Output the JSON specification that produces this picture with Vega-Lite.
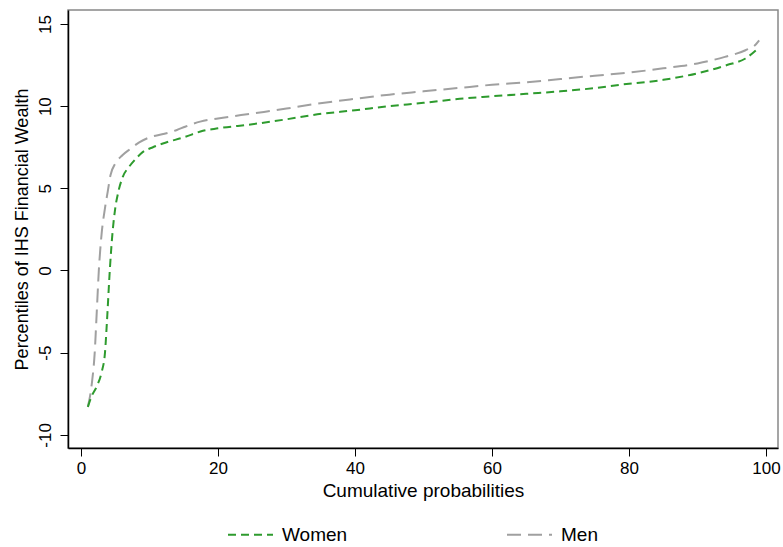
{
  "$schema": "https://vega.github.io/schema/vega-lite/v6.json",
  "autosize": "none",
  "width": 710,
  "height": 438,
  "padding": {"left": 68, "top": 10, "right": 5, "bottom": 99},
  "background": "white",
  "config": {
    "font": "Liberation Sans",
    "view": {"stroke": "#888888", "strokeWidth": 1.5},
    "axis": {"labelFont": "Liberation Sans", "titleFont": "Liberation Sans", "labelFontSize": 17, "titleFontSize": 18, "titleFontWeight": "normal", "labelColor": "black", "titleColor": "black", "domainColor": "black", "domainWidth": 1.5, "tickColor": "black", "tickWidth": 1, "tickSize": 8, "grid": false},
    "legend": {"labelFont": "Liberation Sans", "labelFontSize": 19, "labelColor": "black"}
  },
  "data": {"values": [
    {"p": 1, "v": -8.3, "sex": "Men"},
    {"p": 1.6, "v": -6.8, "sex": "Men"},
    {"p": 2, "v": -5.0, "sex": "Men"},
    {"p": 2.3, "v": -2.5, "sex": "Men"},
    {"p": 2.6, "v": 0, "sex": "Men"},
    {"p": 3, "v": 2.2, "sex": "Men"},
    {"p": 3.5, "v": 3.8, "sex": "Men"},
    {"p": 3.9, "v": 4.8, "sex": "Men"},
    {"p": 4.3, "v": 5.8, "sex": "Men"},
    {"p": 5, "v": 6.5, "sex": "Men"},
    {"p": 6, "v": 7.0, "sex": "Men"},
    {"p": 7.2, "v": 7.4, "sex": "Men"},
    {"p": 8.5, "v": 7.8, "sex": "Men"},
    {"p": 10, "v": 8.1, "sex": "Men"},
    {"p": 12, "v": 8.3, "sex": "Men"},
    {"p": 14, "v": 8.55, "sex": "Men"},
    {"p": 15.2, "v": 8.75, "sex": "Men"},
    {"p": 17.4, "v": 9.06, "sex": "Men"},
    {"p": 20, "v": 9.25, "sex": "Men"},
    {"p": 25, "v": 9.55, "sex": "Men"},
    {"p": 30, "v": 9.85, "sex": "Men"},
    {"p": 34.5, "v": 10.15, "sex": "Men"},
    {"p": 40, "v": 10.45, "sex": "Men"},
    {"p": 45, "v": 10.7, "sex": "Men"},
    {"p": 50, "v": 10.9, "sex": "Men"},
    {"p": 55, "v": 11.1, "sex": "Men"},
    {"p": 60, "v": 11.3, "sex": "Men"},
    {"p": 65, "v": 11.45, "sex": "Men"},
    {"p": 70, "v": 11.65, "sex": "Men"},
    {"p": 75, "v": 11.85, "sex": "Men"},
    {"p": 79, "v": 12.0, "sex": "Men"},
    {"p": 85, "v": 12.3, "sex": "Men"},
    {"p": 90, "v": 12.6, "sex": "Men"},
    {"p": 94, "v": 13.0, "sex": "Men"},
    {"p": 97, "v": 13.4, "sex": "Men"},
    {"p": 98.5, "v": 13.75, "sex": "Men"},
    {"p": 99, "v": 14.0, "sex": "Men"},
    {"p": 1, "v": -8.3, "sex": "Women"},
    {"p": 1.5, "v": -7.7, "sex": "Women"},
    {"p": 2.3, "v": -7.05, "sex": "Women"},
    {"p": 3, "v": -6.2, "sex": "Women"},
    {"p": 3.5, "v": -5.0, "sex": "Women"},
    {"p": 3.8, "v": -3.0, "sex": "Women"},
    {"p": 4.2, "v": 0, "sex": "Women"},
    {"p": 4.6, "v": 2.3, "sex": "Women"},
    {"p": 5.0, "v": 3.8, "sex": "Women"},
    {"p": 5.4, "v": 4.7, "sex": "Women"},
    {"p": 6.1, "v": 5.7, "sex": "Women"},
    {"p": 7, "v": 6.3, "sex": "Women"},
    {"p": 7.9, "v": 6.75, "sex": "Women"},
    {"p": 9, "v": 7.2, "sex": "Women"},
    {"p": 10.5, "v": 7.5, "sex": "Women"},
    {"p": 12.5, "v": 7.8, "sex": "Women"},
    {"p": 15, "v": 8.1, "sex": "Women"},
    {"p": 17.8, "v": 8.5, "sex": "Women"},
    {"p": 20, "v": 8.65, "sex": "Women"},
    {"p": 25, "v": 8.9, "sex": "Women"},
    {"p": 30, "v": 9.2, "sex": "Women"},
    {"p": 34.5, "v": 9.5, "sex": "Women"},
    {"p": 40, "v": 9.75, "sex": "Women"},
    {"p": 45, "v": 10.0, "sex": "Women"},
    {"p": 50, "v": 10.2, "sex": "Women"},
    {"p": 55.3, "v": 10.45, "sex": "Women"},
    {"p": 60, "v": 10.6, "sex": "Women"},
    {"p": 65, "v": 10.75, "sex": "Women"},
    {"p": 70, "v": 10.9, "sex": "Women"},
    {"p": 75, "v": 11.1, "sex": "Women"},
    {"p": 78.7, "v": 11.3, "sex": "Women"},
    {"p": 85, "v": 11.6, "sex": "Women"},
    {"p": 90, "v": 12.0, "sex": "Women"},
    {"p": 94.3, "v": 12.5, "sex": "Women"},
    {"p": 97, "v": 12.9, "sex": "Women"},
    {"p": 98.8, "v": 13.5, "sex": "Women"}
  ]},
  "mark": {"type": "line", "strokeWidth": 2, "interpolate": "monotone"},
  "encoding": {
    "x": {"field": "p", "type": "quantitative", "scale": {"domain": [-1.9, 101.75], "nice": false, "zero": false},
      "axis": {"values": [0, 20, 40, 60, 80, 100], "title": "Cumulative probabilities", "titleFontSize": 19, "labelPadding": 4, "titlePadding": 5}},
    "y": {"field": "v", "type": "quantitative", "scale": {"domain": [-10.8, 15.85], "nice": false, "zero": false},
      "axis": {"values": [-10, -5, 0, 5, 10, 15], "labelExpr": "datum.value + ''", "title": "Percentiles of IHS Financial Wealth", "labelAngle": -90, "labelAlign": "center", "labelBaseline": "bottom", "labelPadding": 6, "titlePadding": 5}},
    "color": {"field": "sex", "type": "nominal", "sort": ["Women", "Men"],
      "scale": {"domain": ["Women", "Men"], "range": ["#2e9b2e", "#a0a0a0"]},
      "legend": {"title": null, "orient": "none", "legendX": 159, "legendY": 501, "direction": "horizontal", "symbolType": "stroke", "symbolSize": 2025, "symbolStrokeWidth": 2, "labelOffset": 8, "columnPadding": 155}},
    "strokeDash": {"field": "sex", "type": "nominal", "sort": ["Women", "Men"],
      "scale": {"domain": ["Women", "Men"], "range": [[8, 5], [14, 7]]},
      "legend": {"title": null, "orient": "none", "legendX": 159, "legendY": 501, "direction": "horizontal", "symbolType": "stroke", "symbolSize": 2025, "symbolStrokeWidth": 2, "labelOffset": 8, "columnPadding": 155}}
  }
}
